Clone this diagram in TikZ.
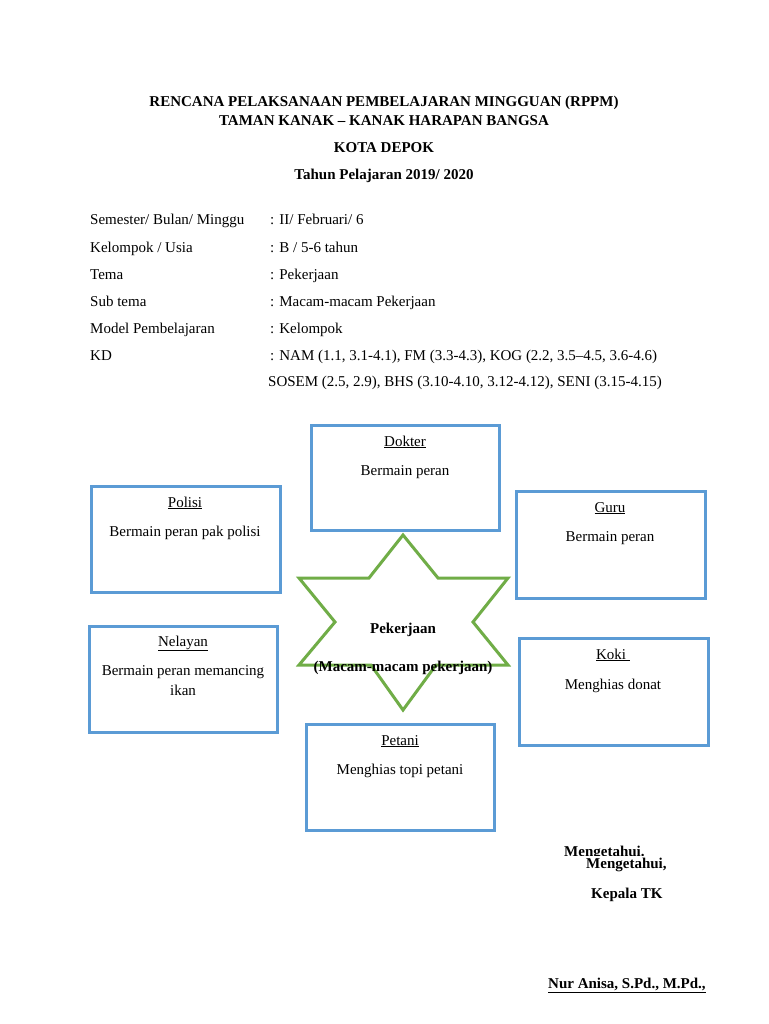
\documentclass[tikz,border=0pt]{standalone}
\usepackage{fontspec}
\setmainfont{Liberation Serif}
\definecolor{boxblue}{HTML}{5B9BD5}
\definecolor{stargreen}{HTML}{70AD47}
\begin{document}
\begin{tikzpicture}[x=1pt,y=-1pt,
  txt/.style={inner sep=0pt,font=\fontsize{15}{17}\selectfont},
  head/.style={inner sep=0pt,font=\fontsize{15}{17}\selectfont\bfseries},
  lab/.style={txt,anchor=base west},
  jobbox/.style={draw=boxblue,line width=3pt},
  boxtxt/.style={txt,anchor=base,align=center}]
\useasboundingbox[fill=white] (0,0) rectangle (768,1024);
% header
\node[head,anchor=base] (h1) at (384,107) {RENCANA PELAKSANAAN PEMBELAJARAN MINGGUAN (RPPM)};
\node[head,anchor=base] (h2) at (384,126) {TAMAN KANAK -- KANAK HARAPAN BANGSA};
\node[head,anchor=base] (h3) at (384,153) {KOTA DEPOK};
\node[head,anchor=base] (h4) at (384,180) {Tahun Pelajaran 2019/ 2020};
% info
\node[lab] (l1) at (90,225) {Semester/ Bulan/ Minggu};
\node[lab] (l2) at (90,252) {Kelompok / Usia};
\node[lab] (l3) at (90,279) {Tema};
\node[lab] (l4) at (90,306) {Sub tema};
\node[lab] (l5) at (90,333) {Model Pembelajaran};
\node[lab] (l6) at (90,360) {KD};
\node[lab] (v1) at (270,225) {: II/ Februari/ 6};
\node[lab] (v2) at (270,252) {: B / 5-6 tahun};
\node[lab] (v3) at (270,279) {: Pekerjaan};
\node[lab] (v4) at (270,306) {: Macam-macam Pekerjaan};
\node[lab] (v5) at (270,333) {: Kelompok};
\node[lab] (v6) at (270,360) {: NAM (1.1, 3.1-4.1), FM (3.3-4.3), KOG (2.2, 3.5--4.5, 3.6-4.6)};
\node[lab] (v7) at (268,386) {SOSEM (2.5, 2.9), BHS (3.10-4.10, 3.12-4.12), SENI (3.15-4.15)};
% boxes
\draw[jobbox] (311,425) rectangle (499,530);
\node[boxtxt] (dokt) at (405,446) {\underline{Dokter}};
\node[boxtxt] (dokb) at (405,475) {Bermain peran};
\draw[jobbox] (91,486) rectangle (280,592);
\node[boxtxt] (polt) at (185,507) {\underline{Polisi}};
\node[boxtxt] (polb) at (185,536) {Bermain peran pak polisi};
\draw[jobbox] (516,491) rectangle (705,598);
\node[boxtxt] (gurt) at (610,512) {\underline{Guru}};
\node[boxtxt] (gurb) at (610,541) {Bermain peran};
\draw[jobbox] (89,626) rectangle (277,732);
\node[boxtxt] (nelt) at (183,646) {\underline{Nelayan}};
\node[boxtxt] (nelb) at (183,675) {Bermain peran memancing};
\node[boxtxt] (nelc) at (183,695) {ikan};
\draw[jobbox] (519,638) rectangle (708,745);
\node[boxtxt] (kokt) at (613,659) {\underline{Koki }};
\node[boxtxt] (kokb) at (613,689) {Menghias donat};
\draw[jobbox] (306,724) rectangle (494,830);
\node[boxtxt] (pett) at (400,745) {\underline{Petani}};
\node[boxtxt] (petb) at (400,774) {Menghias topi petani};
% star
\draw[stargreen,line width=3pt,line join=miter]
  (403,535) -- (438,578) -- (508,578) -- (473,622) -- (508,665) -- (436,665)
  -- (403,710) -- (371,665) -- (299,665) -- (335,622) -- (299,578) -- (369,578) -- cycle;
\node[head,anchor=base] (s1) at (403,633) {Pekerjaan};
\node[head,anchor=base] (s2) at (403,671) {(Macam-macam pekerjaan)};
% signature
\begin{scope}
\clip (500,840) rectangle (700,855);
\node[head,anchor=base west] (m0) at (564,856) {Mengetahui.};
\end{scope}
\node[head,anchor=base west] (m1) at (586,868) {Mengetahui,};
\node[head,anchor=base west] (kp) at (591,898) {Kepala TK};
\node[head,anchor=base west] (nm) at (548,988) {\underline{Nur Anisa, S.Pd., M.Pd.,}};
\end{tikzpicture}
\end{document}
